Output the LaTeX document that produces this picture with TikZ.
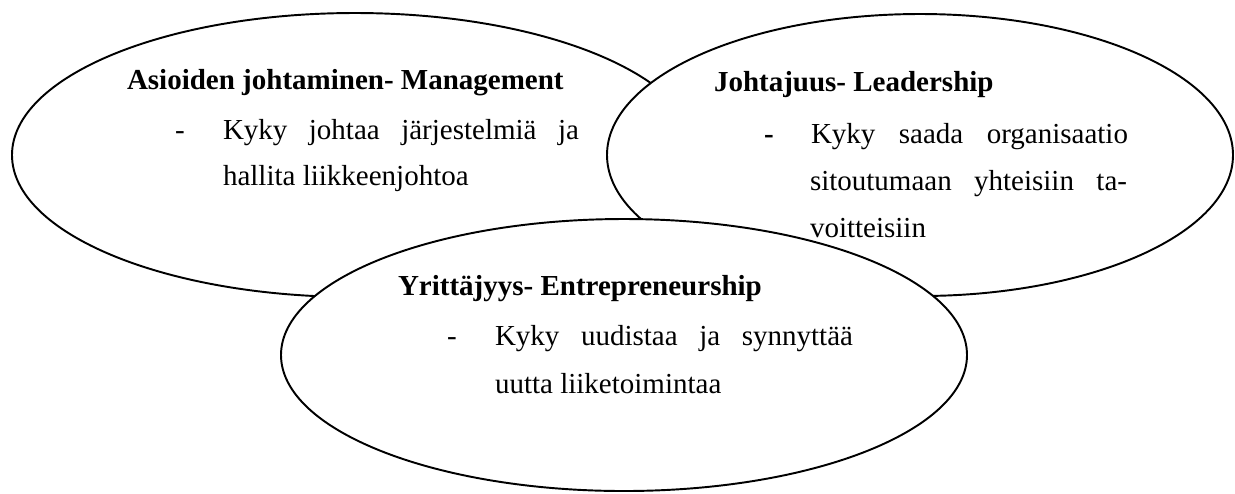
\documentclass[tikz,border=0pt]{standalone}
\usepackage{fontspec}
\setmainfont{Liberation Serif}
\usetikzlibrary{shapes.geometric}
\newlength\px
\setlength\px{0.41379pt}
\tikzset{
  bubble/.style={ellipse, draw=black, fill=white, line width=0.8pt, inner sep=0pt, outer sep=0pt},
  txt/.style={anchor=base west, inner sep=0pt, outer sep=0pt, font=\fontsize{12}{14}\selectfont},
  ttl/.style={txt, font=\fontsize{12}{14}\selectfont\bfseries}
}
\begin{document}
\begin{tikzpicture}[x=0.41379pt, y=-0.41379pt]
\useasboundingbox (0,0) rectangle (1235,493);
% ellipses
\node[bubble, minimum width=686\px, minimum height=284\px] (mgmt) at (355,155) {};
\node[bubble, minimum width=626\px, minimum height=282\px] (lead) at (920,155) {};
\node[bubble, minimum width=686\px, minimum height=272\px] (entr) at (624,355) {};
% left texts
\node[ttl] (mgmtT) at (127,89) {Asioiden johtaminen- Management};
\node[txt] (mgmtD) at (175,139) {-};
\node[txt] (mgmtA) at (223,139) {\makebox[356\px][s]{Kyky johtaa järjestelmiä ja}};
\node[txt] (mgmtB) at (223,185) {hallita liikkeenjohtoa};
% right texts
\node[ttl] (leadT) at (714,91) {Johtajuus- Leadership};
\node[ttl] (leadD) at (764,143) {-};
\node[txt] (leadA) at (811,143) {\makebox[317\px][s]{Kyky saada organisaatio}};
\node[txt] (leadB) at (810,190) {\makebox[317\px][s]{sitoutumaan yhteisiin ta-}};
\node[txt] (leadC) at (810,237) {voitteisiin};
% bottom texts
\node[ttl] (entrT) at (398,295) {Yrittäjyys- Entrepreneurship};
\node[txt] (entrD) at (447,345) {-};
\node[txt] (entrA) at (495,345) {\makebox[358\px][s]{Kyky uudistaa ja synnyttää}};
\node[txt] (entrB) at (495,393) {uutta liiketoimintaa};
\end{tikzpicture}
\end{document}
